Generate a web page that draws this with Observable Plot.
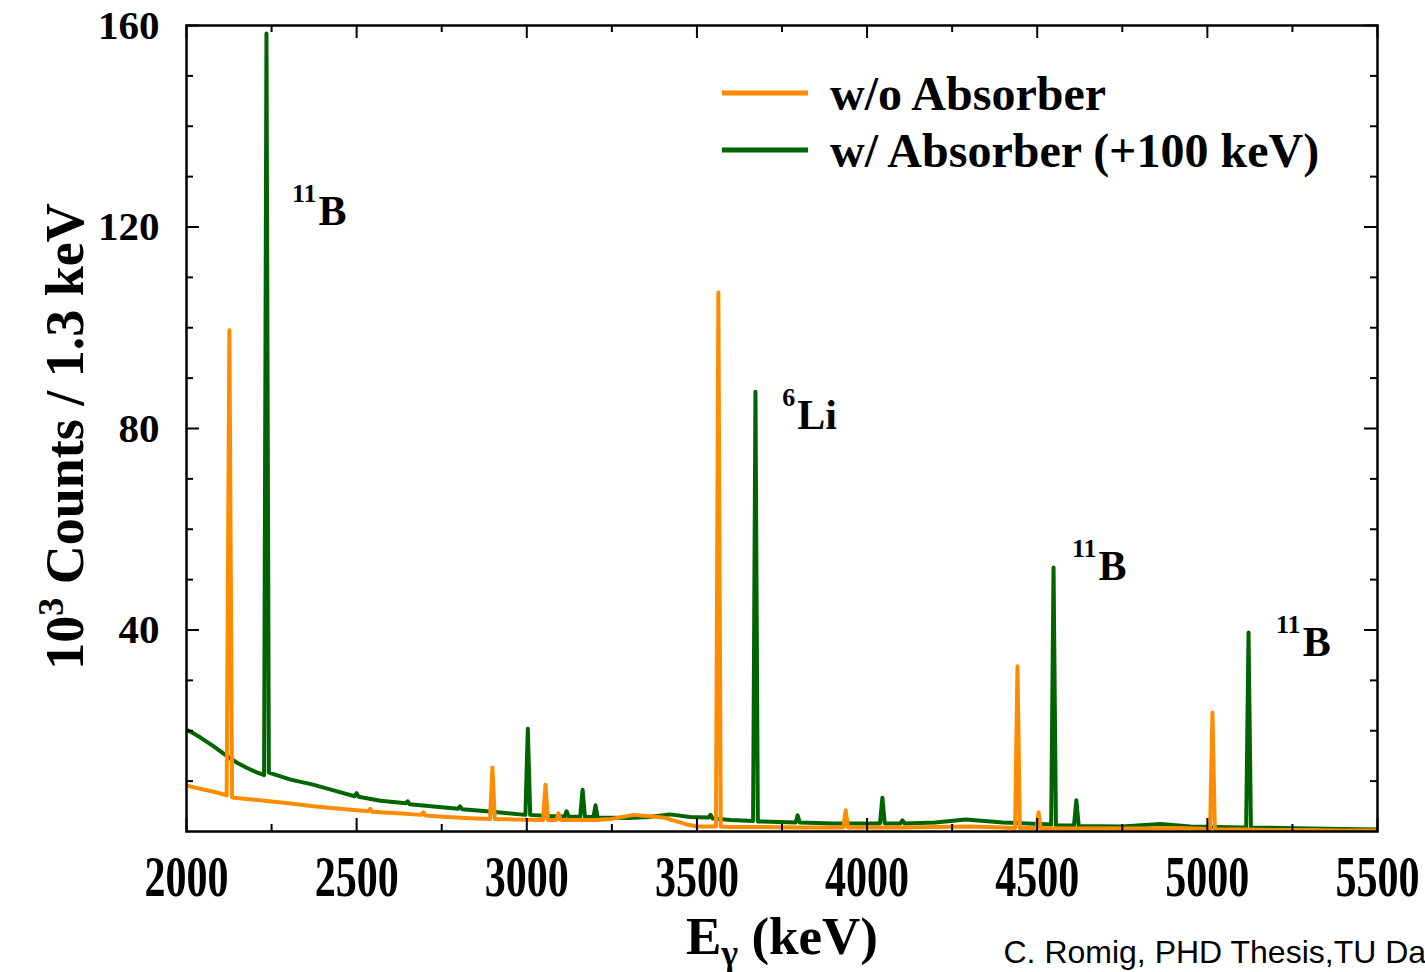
<!DOCTYPE html>
<html>
<head>
<meta charset="utf-8">
<script src="https://cdn.jsdelivr.net/npm/d3@7"></script>
<script src="https://cdn.jsdelivr.net/npm/@observablehq/plot@0.6"></script>
<style>
  html, body { margin: 0; padding: 0; background: #fff; overflow: hidden; }
</style>
</head>
<body>
<script>
// ---- Data ----
// Spectrum without absorber (energy in keV, counts in 10^3 / 1.3 keV)
const energyNoAbs = [2000,2040,2080,2118,2126,2134,2140,2200,2300,2372,
  2450,2534,2540,2546,2620,2690,2696,2702,2765,2850,
  2892,2899,2906,2960,3048,3055,3062,3087,3093,3099,
  3150,3200,3250,3290,3315,3350,3400,3440,3470,3500,
  3556,3563,3570,3600,3700,3800,3900,3930,3937,3944,
  4000,4100,4200,4300,4400,4435,4442,4449,4498,4504,
  4510,4600,4700,4800,4900,5008,5015,5022,5100,5200,
  5300,5400,5500];
const countsNoAbs = [9.1,8.5,7.9,7.2,99.5,6.8,6.7,6.3,5.6,5.0,
  4.5,4.0,4.5,3.9,3.6,3.3,3.8,3.2,2.9,2.6,
  2.5,12.7,2.5,2.4,2.3,9.3,2.3,2.3,3.6,2.3,
  2.3,2.3,2.5,3.0,3.3,3.1,2.8,2.0,1.4,1.0,
  1.0,107.0,1.0,0.9,0.9,0.8,0.8,0.8,4.2,0.8,
  0.8,0.8,0.9,1.0,0.8,0.7,32.8,0.7,0.7,3.8,
  0.7,0.6,0.6,0.6,0.7,0.5,23.6,0.4,0.4,0.3,
  0.3,0.2,0.2];

// Spectrum with absorber (shifted by +100 keV)
const energyAbs = [2000,2020,2040,2060,2080,2100,2124,2150,2178,2205,2228,2235,2242,2306,2372,
  2440,2494,2500,2506,2570,2644,2650,2656,2750,2798,
  2804,2810,2900,2996,3003,3010,3060,3111,3117,3123,
  3157,3164,3171,3196,3202,3208,3300,3360,3420,3480,
  3534,3540,3546,3600,3665,3672,3679,3740,3790,3796,
  3802,3900,4000,4038,4045,4052,4098,4104,4110,4200,
  4290,4400,4541,4548,4555,4608,4615,4622,4750,4862,
  4950,5100,5114,5121,5128,5300,5500];
const countsAbs = [20.2,19.5,18.7,17.8,16.9,15.9,14.7,13.6,12.6,11.8,11.2,158.4,11.7,10.3,9.3,
  8.0,7.0,7.6,6.9,6.1,5.6,6.0,5.4,4.8,4.5,
  5.0,4.4,3.9,3.3,20.4,3.3,3.1,3.0,4.0,3.0,
  2.9,8.3,2.9,2.9,5.2,2.8,2.7,2.9,3.4,2.9,
  2.8,3.3,2.6,2.3,2.1,87.3,2.0,1.9,1.8,3.2,
  1.8,1.6,1.6,1.6,6.7,1.6,1.6,2.2,1.6,1.8,
  2.4,1.8,1.4,52.4,1.2,1.2,6.2,1.1,1.0,1.5,
  1.0,0.8,0.8,39.5,0.8,0.6,0.4];

const seriesNames = ["w/o Absorber", "w/ Absorber (+100 keV)"];
const seriesColors = ["#FF8C00", "#006400"];

// Isotope annotations (energy, counts of label baseline)
const isoEnergy = [2388, 3795, 4680, 5280];
const isoCounts = [120.3, 80.0, 50.0, 34.9];
const isoMass = ["11", "6", "11", "11"];
const isoElement = ["B", "Li", "B", "B"];

// Ticks
const xLabelTicks = [2000, 2500, 3000, 3500, 4000, 4500, 5000, 5500];
const xMinorTicks = [2250, 2750, 3250, 3750, 4250, 4750, 5250];
const yLabelTicks = [40, 80, 120, 160];
const yMinorTicks = [10,20,30,50,60,70,90,100,110,130,140,150];

const xLabel = "Eγ (keV)";
const yLabel = "10^3 Counts / 1.3 keV";
const caption = "C. Romig, PHD Thesis,TU Da";

// ---- Build tables ----
const noAbs = energyNoAbs.map((e, i) => ({E: e, c: countsNoAbs[i]}));
const withAbs = energyAbs.map((e, i) => ({E: e, c: countsAbs[i]}));
const iso = isoEnergy.map((e, i) => ({E: e, c: isoCounts[i], mass: isoMass[i], el: isoElement[i]}));

const W = 1425, H = 972;
const mL = 186, mR = 48, mT = 25, mB = 141;
const plotW = W - mL - mR, plotH = H - mT - mB;
const majorLen = 13, minorLen = 7;

const serif = "'Liberation Serif', 'Times New Roman', serif";

const svg = Plot.plot({
  width: W, height: H,
  marginLeft: mL, marginRight: mR, marginTop: mT, marginBottom: mB,
  x: {domain: [2000, 5500]},
  y: {domain: [0, 160]},
  style: {fontFamily: serif, fontWeight: "bold", background: "#fff", color: "#000", overflow: "hidden"},
  marks: [
    Plot.line(withAbs, {x: "E", y: "c", stroke: seriesColors[1], strokeWidth: 4, clip: true}),
    Plot.line(noAbs, {x: "E", y: "c", stroke: seriesColors[0], strokeWidth: 4, clip: true}),
    // ticks pointing inward on all four sides
    Plot.tickX(xLabelTicks, {x: d => d, insetTop: plotH - majorLen, stroke: "#000", strokeWidth: 2}),
    Plot.tickX(xMinorTicks, {x: d => d, insetTop: plotH - minorLen, stroke: "#000", strokeWidth: 2}),
    Plot.tickX(xLabelTicks, {x: d => d, insetBottom: plotH - majorLen, stroke: "#000", strokeWidth: 2}),
    Plot.tickX(xMinorTicks, {x: d => d, insetBottom: plotH - minorLen, stroke: "#000", strokeWidth: 2}),
    Plot.tickY(yLabelTicks, {y: d => d, insetRight: plotW - majorLen, stroke: "#000", strokeWidth: 2}),
    Plot.tickY(yMinorTicks, {y: d => d, insetRight: plotW - minorLen, stroke: "#000", strokeWidth: 2}),
    Plot.tickY(yLabelTicks, {y: d => d, insetLeft: plotW - majorLen, stroke: "#000", strokeWidth: 2}),
    Plot.tickY(yMinorTicks, {y: d => d, insetLeft: plotW - minorLen, stroke: "#000", strokeWidth: 2}),
    Plot.frame({stroke: "#000", strokeWidth: 2.5}),
    Plot.axisX({ticks: xLabelTicks, tickSize: 0, tickPadding: 25, fontSize: 56, fontWeight: "bold", label: null, tickFormat: d => String(d)}),
    Plot.axisY({ticks: yLabelTicks, tickSize: 0, tickPadding: 27, fontSize: 41, fontWeight: "bold", label: null, tickFormat: d => String(d)}),
    // isotope labels
    Plot.text(iso, {x: "E", y: "c", text: "el", textAnchor: "start", lineAnchor: "bottom", fontSize: 42, fontWeight: "bold"}),
    Plot.text(iso, {x: "E", y: "c", text: "mass", textAnchor: "end", lineAnchor: "bottom", dx: -2, dy: -23, fontSize: 26, fontWeight: "bold"}),
    // axis titles and caption
    Plot.text([xLabel], {frameAnchor: "bottom", textAnchor: "middle", lineAnchor: "bottom", dy: 122, fontSize: 53, fontWeight: "bold"}),
    Plot.text([yLabel], {frameAnchor: "left", textAnchor: "middle", rotate: -90, lineAnchor: "bottom", dx: -104, dy: 8, fontSize: 54, fontWeight: "bold"}),
    Plot.text([caption], {frameAnchor: "bottom-right", textAnchor: "start", lineAnchor: "bottom", dx: -374, dy: 131, fontSize: 32, fontWeight: "normal", fontFamily: "'Liberation Sans', Arial, sans-serif"})
  ]
});
document.body.append(svg);

// Squeeze the x tick labels as in the reference
svg.querySelectorAll('g[aria-label="x-axis tick label"] text').forEach(t => {
  t.setAttribute("textLength", 84);
  t.setAttribute("lengthAdjust", "spacingAndGlyphs");
});

// Rich text (sub/superscripts) for axis titles
function rich(content, parts) {
  svg.querySelectorAll("text").forEach(t => {
    if (t.textContent === content) {
      t.textContent = "";
      parts.forEach(p => {
        const ts = document.createElementNS("http://www.w3.org/2000/svg", "tspan");
        ts.textContent = p.text;
        if (p.size) ts.setAttribute("font-size", p.size);
        if (p.dy) ts.setAttribute("dy", p.dy);
        t.appendChild(ts);
      });
    }
  });
}
rich(xLabel, [{text: "E"}, {text: "γ", size: 36, dy: 11}, {text: " (keV)", dy: -11}]);
rich(yLabel, [{text: "10"}, {text: "3", size: 36, dy: -20}, {text: " Counts / 1.3 keV", dy: 20}]);

// Legend
const lg = d3.select(svg).append("g").attr("font-family", serif).attr("font-weight", "bold");
seriesNames.forEach((name, i) => {
  const y = 93 + 57 * i;
  lg.append("line").attr("x1", 722).attr("x2", 808).attr("y1", y).attr("y2", y)
    .attr("stroke", seriesColors[i]).attr("stroke-width", 5);
  lg.append("text").attr("x", 830).attr("y", y + 17).attr("font-size", 48)
    .attr("text-anchor", "start").attr("fill", "#000").text(name);
});
</script>
</body>
</html>
